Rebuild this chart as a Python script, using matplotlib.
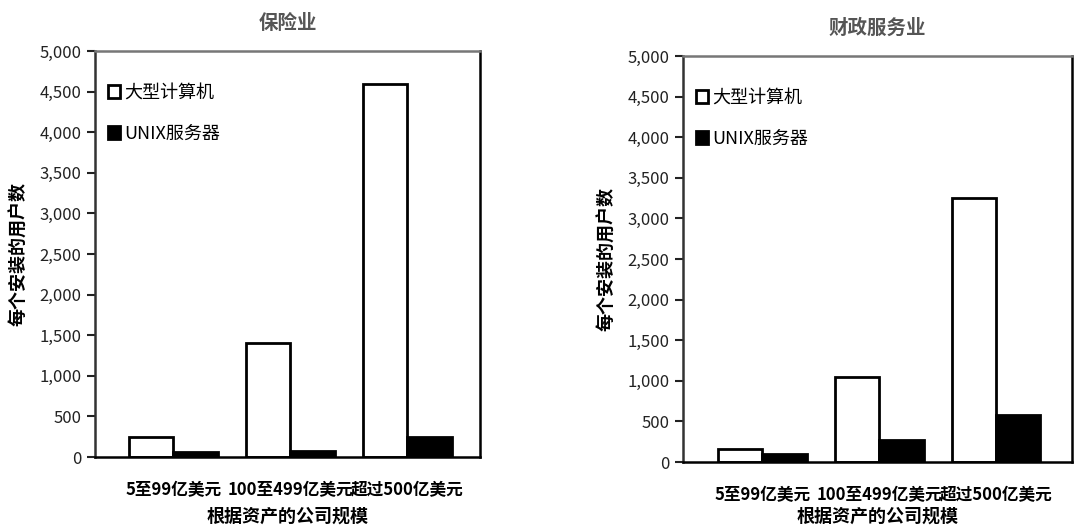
import matplotlib.pyplot as plt
import numpy as np
from matplotlib.ticker import FuncFormatter

plt.rcParams['font.family'] = ['Noto Sans CJK SC', 'DejaVu Sans']

# 数据
categories = ['5至99亿美元', '100至499亿美元', '超过500亿美元']
series_names = ['大型计算机', 'UNIX服务器']
insurance_mainframe = [250, 1400, 4600]
insurance_unix = [60, 80, 250]
finance_mainframe = [160, 1050, 3250]
finance_unix = [100, 270, 580]
panel_titles = ['保险业', '财政服务业']
y_label = '每个安装的用户数'
x_label = '根据资产的公司规模'
y_ticks = [0, 500, 1000, 1500, 2000, 2500, 3000, 3500, 4000, 4500, 5000]


def draw_panel(ax, mainframe, unix, title, xlim, xlabel_y):
    x = np.arange(len(categories))
    w = 0.38
    ax.bar(x - w / 2, mainframe, width=w, color='white', edgecolor='black',
           linewidth=2, label=series_names[0])
    ax.bar(x + w / 2, unix, width=w, color='black', edgecolor='black',
           linewidth=2, label=series_names[1])
    ax.set_xlim(*xlim)
    ax.set_ylim(0, 5000)
    ax.set_yticks(y_ticks)
    ax.yaxis.set_major_formatter(FuncFormatter(lambda v, p: f'{int(v):,}'))
    ax.set_xticks(x)
    ax.set_xticklabels(categories, fontsize=12, fontweight='bold')
    ax.tick_params(axis='x', length=0, pad=17)
    ax.tick_params(axis='y', direction='out', length=6, width=1.5,
                   labelsize=12, pad=4, colors='#222222')
    for lbl in ax.get_yticklabels():
        lbl.set_fontweight('medium')
    for s in ax.spines.values():
        s.set_linewidth(1.8)
    ax.spines['top'].set_color('#777777')
    ax.spines['left'].set_color('#333333')
    ax.set_ylabel(y_label, fontsize=13, fontweight='bold', labelpad=8)
    ax.set_xlabel(x_label, fontsize=13, fontweight='bold')
    ax.xaxis.set_label_coords(0.5, xlabel_y)
    ax.set_title(title, fontsize=14, fontweight='bold', color='#555555', pad=16)
    ax.legend(loc='upper left', bbox_to_anchor=(0.0, 0.95), frameon=False,
              fontsize=13, handlelength=0.7, handleheight=0.7,
              handletextpad=0.2, labelspacing=1.25, borderaxespad=0.3)


fig = plt.figure(figsize=(10.74, 5.3), dpi=100)
ax1 = fig.add_axes([0.0885, 0.1377, 0.3585, 0.766])
ax2 = fig.add_axes([0.636, 0.1283, 0.362, 0.766])

draw_panel(ax1, insurance_mainframe, insurance_unix, panel_titles[0], (-0.667, 2.62), -0.122)
draw_panel(ax2, finance_mainframe, finance_unix, panel_titles[1], (-0.68, 2.65), -0.11)

plt.savefig('out.png', dpi=100)
